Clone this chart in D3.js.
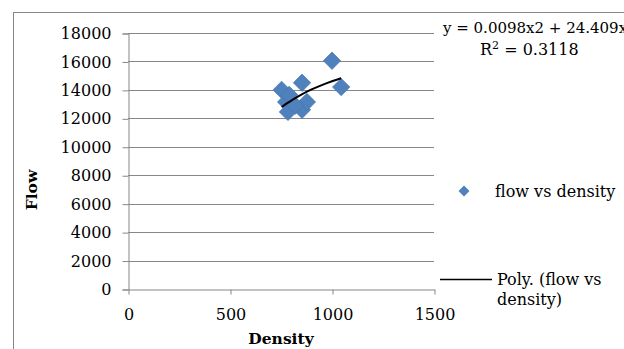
<!DOCTYPE html>
<html>
<head>
<meta charset="utf-8">
<script src="https://cdn.jsdelivr.net/npm/d3@7"></script>
<style>
  body { margin: 0; background: #fff; }
  svg { display: block; }
  text { font-family: "DejaVu Serif", serif; fill: #000; }
</style>
</head>
<body>
<svg id="chart" width="624" height="349"></svg>
<script>
// data
var density = [1000, 1045, 753, 853, 775, 784, 853, 877, 790, 820];
var flow = [16050, 14200, 14000, 14500, 13150, 12450, 12600, 13150, 13650, 12900];

// trend line points
var trendDensity = [753, 800, 850, 900, 950, 1000, 1045];
var trendFlow = [12800, 13250, 13670, 14030, 14340, 14610, 14820];

var xTicks = [0, 500, 1000, 1500];
var yTicks = [0, 2000, 4000, 6000, 8000, 10000, 12000, 14000, 16000, 18000];

var equationText = "y = 0.0098x2 + 24.409x";
var r2Text = "= 0.3118";
var legendLabels = ["flow vs density", "Poly. (flow vs", "density)"];

var svg = d3.select("#chart");

// outer chart border
svg.append("rect")
  .attr("x", 13.5).attr("y", 12.5)
  .attr("width", 700).attr("height", 400)
  .attr("fill", "none").attr("stroke", "#878787").attr("stroke-width", 1);

var x = d3.scaleLinear().domain([0, 1500]).range([128, 434]);
var y = d3.scaleLinear().domain([0, 18000]).range([289, 33]);

// gridlines
svg.append("g")
  .selectAll("line")
  .data(yTicks.slice(1))
  .join("line")
  .attr("x1", x(0)).attr("x2", x(1500))
  .attr("y1", d => Math.round(y(d)) + 0.5).attr("y2", d => Math.round(y(d)) + 0.5)
  .attr("stroke", "#878787");

// y axis
var yAxis = svg.append("g")
  .attr("transform", "translate(" + (x(0) + 0.5) + ",0.5)")
  .call(d3.axisLeft(y).tickValues(yTicks).tickFormat(d3.format("d")).tickSize(6).tickPadding(11));
yAxis.selectAll("path, line").attr("stroke", "#878787");
yAxis.selectAll("text").style("font-size", "16px").style("font-family", "DejaVu Serif");

// x axis
var xAxis = svg.append("g")
  .attr("transform", "translate(0.5," + (y(0) + 0.5) + ")")
  .call(d3.axisBottom(x).tickValues(xTicks).tickFormat(d3.format("d")).tickSize(5).tickSizeOuter(0).tickPadding(14));
xAxis.selectAll("path, line").attr("stroke", "#878787");
xAxis.selectAll("text").style("font-size", "16px").style("font-family", "DejaVu Serif");

// points
var diamond = d3.symbol(d3.symbolSquare, 150);
svg.append("g")
  .selectAll("path")
  .data(density.map((d, i) => [d, flow[i]]))
  .join("path")
  .attr("d", diamond)
  .attr("transform", d => "translate(" + x(d[0]) + "," + y(d[1]) + ") rotate(45)")
  .attr("fill", "#4F81BD")
  .attr("stroke", "#4677b3")
  .attr("stroke-width", 0.7);

// trend line
var line = d3.line()
  .x(d => x(d[0]))
  .y(d => y(d[1]))
  .curve(d3.curveMonotoneX);
svg.append("path")
  .datum(trendDensity.map((d, i) => [d, trendFlow[i]]))
  .attr("d", line)
  .attr("fill", "none")
  .attr("stroke", "#000")
  .attr("stroke-width", 2);

// axis titles
svg.append("text")
  .attr("x", 281).attr("y", 344)
  .attr("text-anchor", "middle")
  .style("font-size", "15.5px").style("font-weight", "bold")
  .text("Density");

svg.append("text")
  .attr("transform", "translate(37,190) rotate(-90)")
  .attr("text-anchor", "middle")
  .style("font-size", "15.5px").style("font-weight", "bold")
  .text("Flow");

// equation label
svg.append("rect")
  .attr("x", 438).attr("y", 17).attr("width", 200).attr("height", 42)
  .attr("fill", "#fff");
svg.append("text")
  .attr("x", 443).attr("y", 33)
  .style("font-size", "15px")
  .text(equationText);
var r2 = svg.append("text")
  .attr("x", 480).attr("y", 55)
  .style("font-size", "16px");
r2.append("tspan").text("R");
r2.append("tspan").attr("dy", -6).style("font-size", "11px").text("2");
r2.append("tspan").attr("dy", 6).text(" " + r2Text);

// legend
svg.append("path")
  .attr("d", d3.symbol(d3.symbolSquare, 60))
  .attr("transform", "translate(464,191) rotate(45)")
  .attr("fill", "#4F81BD");
svg.append("text")
  .attr("x", 495).attr("y", 197)
  .style("font-size", "16px")
  .text(legendLabels[0]);

svg.append("line")
  .attr("x1", 440).attr("x2", 492)
  .attr("y1", 279.5).attr("y2", 279.5)
  .attr("stroke", "#000").attr("stroke-width", 1.5);
svg.append("text")
  .attr("x", 497).attr("y", 285)
  .style("font-size", "16px")
  .text(legendLabels[1]);
svg.append("text")
  .attr("x", 497).attr("y", 305)
  .style("font-size", "16px")
  .text(legendLabels[2]);
</script>
</body>
</html>
